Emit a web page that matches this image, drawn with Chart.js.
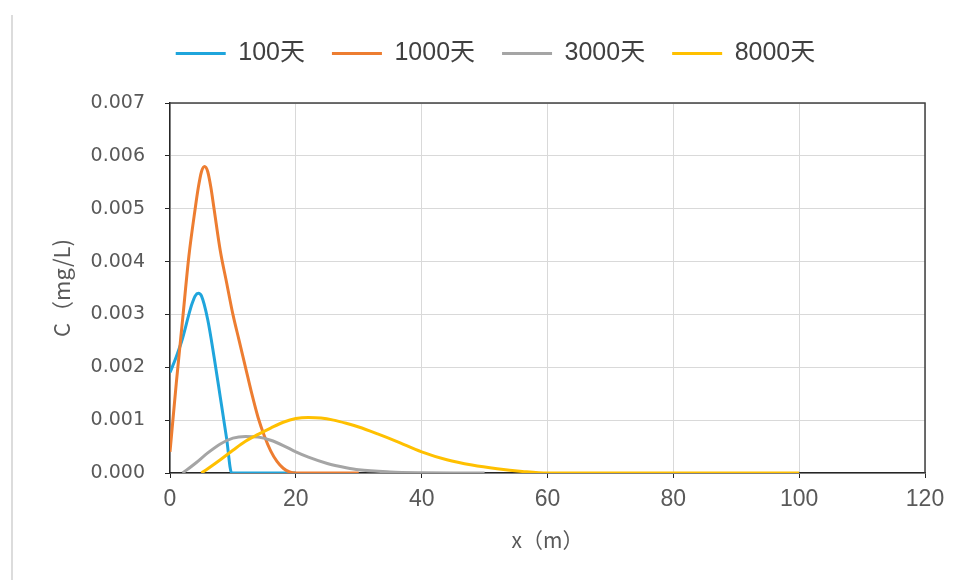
<!DOCTYPE html>
<html lang="zh-CN">
<head>
<meta charset="UTF-8">
<title>C-x</title>
<script src="https://cdn.jsdelivr.net/npm/chart.js"></script>
<style>
  html, body { margin: 0; padding: 0; background: #fff; }
  #wrap { position: relative; width: 961px; height: 583px; }
  #edge { position: absolute; left: 11px; top: 15px; width: 2px; height: 565px; background: #dcdcdc; }
  canvas { position: absolute; left: 0; top: 0; }
</style>
</head>
<body>
<div id="wrap">
  <div id="edge"></div>
  <canvas id="grafico" width="961" height="583"></canvas>
</div>
<script>
  // series names
  const seriesNames = ['100天', '1000天', '3000天', '8000天'];

  // 100 天
  const x100 = [0, 1, 2, 3, 3.5, 4, 4.5, 5, 6, 7, 8, 9, 9.8, 12, 15, 20];
  const c100 = [0.0019, 0.0022, 0.00255, 0.003, 0.0032, 0.00335, 0.0034, 0.00335, 0.0029, 0.0022, 0.00143, 0.00065, 0, 0, 0, 0];

  // 1000 天
  const x1000 = [0, 1, 2, 3, 4, 4.5, 5, 5.5, 6, 6.5, 7, 8, 9, 10, 11, 12, 13, 14, 15, 16, 17, 18, 19, 20, 25, 30];
  const c1000 = [0.0004, 0.0017, 0.0029, 0.0041, 0.005, 0.0054, 0.0057, 0.0058, 0.0057, 0.0054, 0.005, 0.0042, 0.0036, 0.003, 0.0025, 0.002, 0.0015, 0.00105, 0.0007, 0.00042, 0.00022, 0.00009, 0.00002, 0, 0, 0];

  // 3000 天
  const x3000 = [2, 4, 6, 8, 10, 12, 14, 16, 18, 20, 22, 25, 28, 30, 35, 40, 45, 50];
  const c3000 = [0, 0.00018, 0.00038, 0.00055, 0.00066, 0.00069, 0.00068, 0.00062, 0.00052, 0.0004, 0.0003, 0.00018, 0.0001, 0.00006, 0.00002, 0.000005, 0, 0];

  // 8000 天
  const x8000 = [5, 6, 8, 10, 12, 14, 16, 18, 20, 22, 24, 26, 28, 30, 33, 36, 40, 44, 48, 52, 56, 60, 70, 80, 90, 100];
  const c8000 = [0, 0.00008, 0.00025, 0.00043, 0.0006, 0.00073, 0.00085, 0.00096, 0.00103, 0.00105, 0.00104, 0.001, 0.00094, 0.00087, 0.00074, 0.0006, 0.0004, 0.00025, 0.00015, 0.00008, 0.00003, 0, 0, 0, 0, 0];

  // tick labels
  const xTicks = [0, 20, 40, 60, 80, 100, 120];
  const yTicks = [0, 0.001, 0.002, 0.003, 0.004, 0.005, 0.006, 0.007];

  const cores = ['#1FA5DC', '#ED7D31', '#A5A5A5', '#FFC000'];
  const xs = [x100, x1000, x3000, x8000];
  const cs = [c100, c1000, c3000, c8000];

  const datasets = seriesNames.map((nome, i) => ({
    label: nome,
    data: xs[i].map((x, k) => ({ x: x, y: cs[i][k] })),
    borderColor: cores[i],
    backgroundColor: cores[i],
    borderWidth: 3,
    pointRadius: 0,
    cubicInterpolationMode: 'monotone',
    order: 4 - i
  }));

  // top and right frame of the plot area
  const moldura = {
    id: 'moldura',
    beforeDatasetsDraw(chart) {
      const a = chart.chartArea, ctx = chart.ctx;
      ctx.save();
      ctx.strokeStyle = '#404040';
      ctx.lineWidth = 1.5;
      ctx.beginPath();
      ctx.moveTo(a.left, a.top);
      ctx.lineTo(a.right, a.top);
      ctx.lineTo(a.right, a.bottom);
      ctx.stroke();
      ctx.restore();
    }
  };

  // extra gap under the legend, and nudge it to the right
  const ajusteLegenda = {
    id: 'ajusteLegenda',
    beforeUpdate(chart) {
      const lg = chart.legend;
      if (!lg || lg._ajustado) return;
      lg._ajustado = true;
      const fit = lg.fit;
      lg.fit = function () { fit.call(this); this.height += 27; };
      const draw = lg.draw;
      lg.draw = function () {
        this.ctx.save();
        this.ctx.translate(11, 0);
        draw.call(this);
        this.ctx.restore();
      };
    }
  };

  const ctx = document.getElementById('grafico').getContext('2d');
  new Chart(ctx, {
    type: 'line',
    data: { datasets: datasets },
    plugins: [moldura, ajusteLegenda],
    options: {
      responsive: false,
      animation: false,
      layout: { padding: { left: 44, right: 36, top: 14, bottom: 26 } },
      plugins: {
        tooltip: { enabled: false },
        legend: {
          position: 'top',
          labels: {
            usePointStyle: true,
            pointStyle: 'line',
            pointStyleWidth: 50,
            padding: 27,
            color: '#404040',
            font: { family: "'Liberation Sans', 'Noto Sans CJK SC'", size: 25 },
            sort: (a, b) => a.datasetIndex - b.datasetIndex
          }
        }
      },
      scales: {
        x: {
          type: 'linear',
          min: 0,
          max: 120,
          afterBuildTicks: s => { s.ticks = xTicks.map(v => ({ value: v })); },
          afterFit: s => { s.height = 84; },
          grid: { color: '#D9D9D9', tickColor: '#262626', tickLength: 5 },
          border: { color: '#262626', width: 1.5 },
          ticks: {
            color: '#595959',
            padding: 8,
            maxRotation: 0,
            font: { family: "'Liberation Sans'", size: 23 }
          },
          title: {
            display: true,
            text: 'x（m）',
            color: '#595959',
            font: { family: "'Noto Sans CJK SC'", size: 21 }
          }
        },
        y: {
          min: 0,
          max: 0.007,
          afterBuildTicks: s => { s.ticks = yTicks.map(v => ({ value: v })); },
          afterFit: s => { s.width = 126; },
          grid: { color: '#D9D9D9', tickColor: '#262626', tickLength: 5 },
          border: { color: '#262626', width: 1.5 },
          ticks: {
            color: '#595959',
            padding: 20,
            callback: v => v.toFixed(3),
            font: { family: "'DejaVu Sans'", size: 19 }
          },
          title: {
            display: true,
            text: 'C（mg/L)',
            color: '#595959',
            font: { family: "'Noto Sans CJK SC'", size: 22 }
          }
        }
      }
    }
  });
</script>
</body>
</html>
